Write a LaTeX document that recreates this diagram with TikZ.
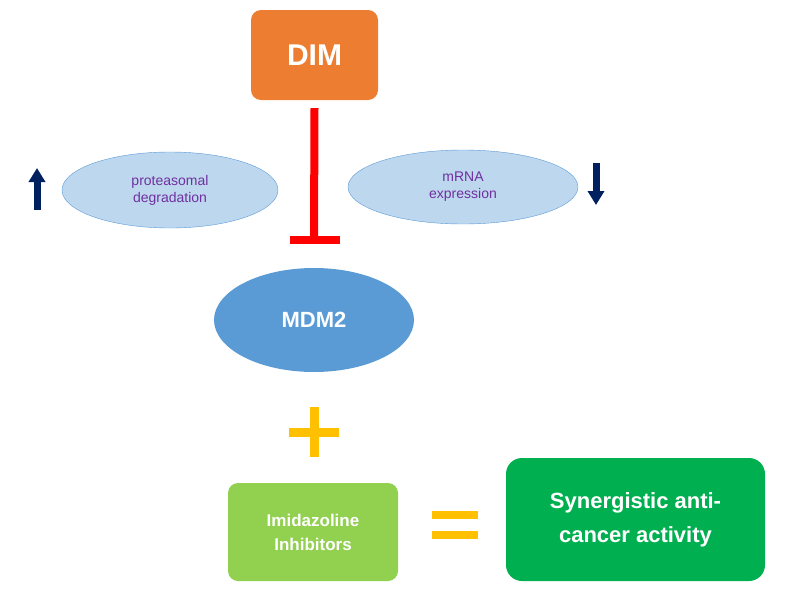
\documentclass[tikz,border=0pt]{standalone}
\usepackage{fontspec}
\setmainfont{Liberation Sans}
\usetikzlibrary{shapes.geometric,arrows.meta}
\definecolor{orng}{HTML}{ED7D31}
\definecolor{lblue}{HTML}{BDD7EE}
\definecolor{mblue}{HTML}{5B9BD5}
\definecolor{purp}{HTML}{7030A0}
\definecolor{navy}{HTML}{002060}
\definecolor{yel}{HTML}{FFC000}
\definecolor{lgreen}{HTML}{92D050}
\definecolor{dgreen}{HTML}{00B050}
\begin{document}
\begin{tikzpicture}[x=1pt,y=-1pt,
  box/.style={rounded corners=10pt,text=white,font=\bfseries,align=center,inner sep=0},
  oval/.style={ellipse,draw=mblue,fill=lblue,text=purp,font=\fontsize{14}{17}\selectfont,align=center,inner sep=0},
  barr/.style={-{Triangle[length=14pt,width=16pt]},line width=7pt,navy}]
\useasboundingbox (0,0) rectangle (785,600);
\node[box,fill=orng,minimum width=127pt,minimum height=90pt,font=\bfseries\fontsize{30}{36}\selectfont] (dim) at (314.5,55) {DIM};
\node[oval,minimum width=216pt,minimum height=76pt] (prot) at (170,190) {proteasomal\\degradation};
\node[oval,minimum width=230pt,minimum height=74pt] (mrna) at (463,187) {mRNA\\expression};
\node[ellipse,fill=mblue,minimum width=200pt,minimum height=104pt,text=white,font=\bfseries\fontsize{22}{26}\selectfont,inner sep=0] (mdm) at (314,320) {MDM2};
\coordinate (tb) at (314,240);
\draw[red,line width=8pt] (dim.south) ++(0,8) -- (tb);
\draw[red,line width=8pt] (290,240) -- (340,240);
\coordinate (ua1) at (37,210); \coordinate (ua2) at (37,168);
\draw[barr] (ua1) -- (ua2);
\coordinate (da1) at (596,163); \coordinate (da2) at (596,205);
\draw[barr] (da1) -- (da2);
\draw[yel,line width=9pt] (289,432) -- (339,432) (314,407) -- (314,457);
\node[box,fill=lgreen,minimum width=170pt,minimum height=98pt,font=\bfseries\fontsize{17}{24}\selectfont] (imi) at (313,532) {Imidazoline\\Inhibitors};
\draw[yel,line width=8pt] (432,515) -- (478,515) (432,535) -- (478,535);
\node[box,fill=dgreen,minimum width=259pt,minimum height=123pt,rounded corners=16pt,font=\bfseries\fontsize{22}{34}\selectfont] (syn) at (635.5,519.5) {Synergistic anti-\\cancer activity};
\end{tikzpicture}
\end{document}
